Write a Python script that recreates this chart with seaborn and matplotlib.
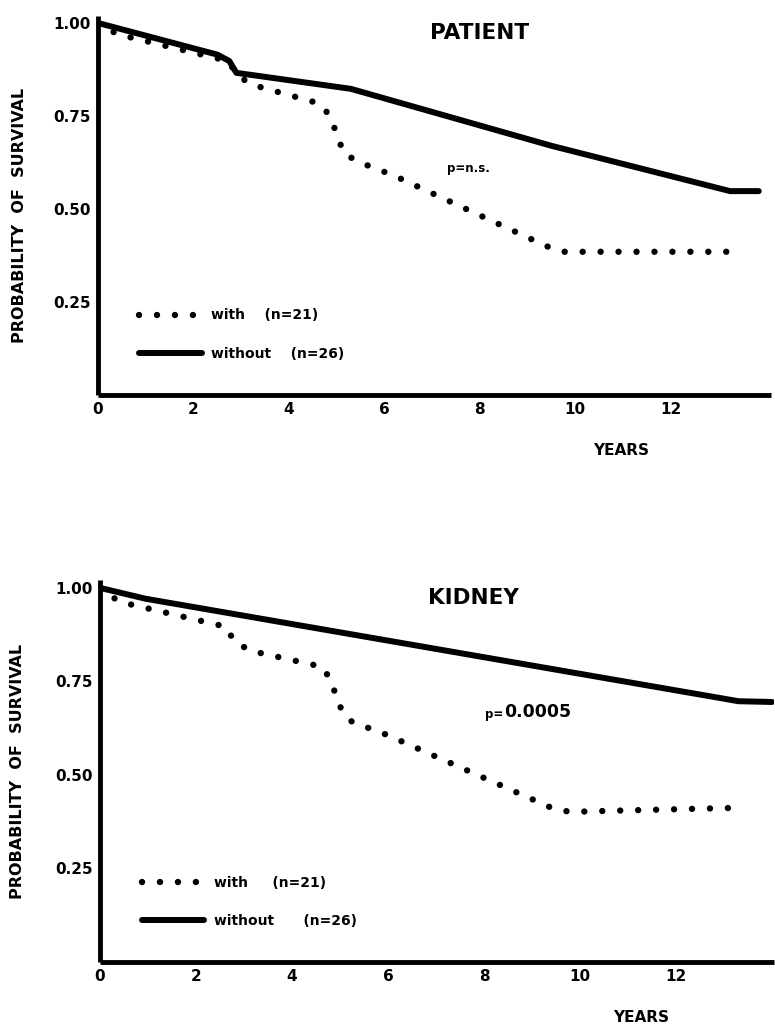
import matplotlib
matplotlib.use("Agg")
import matplotlib.pyplot as plt
import numpy as np
import pandas as pd
import seaborn as sns

# ---- survival curves (years, probability of survival) ----
pat_with_years = [0, 0.4, 2.5, 2.75, 2.9, 3.2, 4.6, 4.8, 4.95, 5.15, 5.45, 6.2, 9.4, 9.75, 13.25]
pat_with_surv = [1.0, 0.97, 0.905, 0.895, 0.862, 0.835, 0.785, 0.76, 0.72, 0.65, 0.627, 0.59, 0.40, 0.385, 0.385]

pat_without_years = [0, 2.5, 2.75, 2.9, 5.3, 9.5, 13.25, 13.85]
pat_without_surv = [1.0, 0.915, 0.898, 0.866, 0.823, 0.67, 0.548, 0.548]

kid_with_years = [0, 0.4, 2.63, 2.79, 3.13, 4.63, 4.79, 5.04, 5.25, 5.98, 9.46, 9.81, 10.6, 13.27]
kid_with_surv = [1.0, 0.963, 0.896, 0.858, 0.832, 0.789, 0.757, 0.671, 0.642, 0.607, 0.409, 0.401, 0.404, 0.412]

kid_without_years = [0, 0.95, 12.9, 13.3, 14.0]
kid_without_surv = [1.0, 0.971, 0.706, 0.697, 0.695]

group_labels = ["with", "without"]
n_patients = [21, 26]
panel_titles = ["PATIENT", "KIDNEY"]
p_values = ["n.s.", "0.0005"]

x_ticks = [0, 2, 4, 6, 8, 10, 12]
y_ticks = [0.25, 0.50, 0.75, 1.00]
y_tick_labels = ["0.25", "0.50", "0.75", "1.00"]

sns.set_theme(style="white")
plt.rcParams["font.family"] = ["DejaVu Sans"]
plt.rcParams["font.weight"] = "bold"
plt.rcParams["text.color"] = "black"
plt.rcParams["axes.labelcolor"] = "black"
plt.rcParams["xtick.color"] = "black"
plt.rcParams["ytick.color"] = "black"

fig = plt.figure(figsize=(7.75, 10.24), dpi=100)
ax_top = fig.add_axes([0.1265, 0.6143, 0.8679, 0.3705])
ax_bot = fig.add_axes([0.1290, 0.0606, 0.8702, 0.3726])

dot_style = dict(color="black", lw=4.6, linestyle=(0, (0.01, 2.8)),
                 dash_capstyle="round", solid_capstyle="round")
solid_style = dict(color="black", lw=4.3, linestyle="-", solid_joinstyle="round")


def draw_panel(ax, yw, sw, yo, so, xmax, title, title_x, pval, pval_xy, big_p,
               ylab_x, ylab_y, xlab_x, leg_anchor, gaps):
    df_w = pd.DataFrame({"years": yw, "surv": sw})
    df_o = pd.DataFrame({"years": yo, "surv": so})
    sns.lineplot(data=df_w, x="years", y="surv", ax=ax, estimator=None, sort=False,
                 label=f"{group_labels[0]}{' ' * gaps[0]}(n={n_patients[0]})", **dot_style)
    sns.lineplot(data=df_o, x="years", y="surv", ax=ax, estimator=None, sort=False,
                 label=f"{group_labels[1]}{' ' * gaps[1]}(n={n_patients[1]})", **solid_style)

    ax.set_xlim(0, xmax)
    ax.set_ylim(0, 1.02)
    ax.set_xticks(x_ticks)
    ax.set_xticklabels([str(t) for t in x_ticks], fontsize=11, fontweight="bold")
    ax.set_yticks(y_ticks)
    ax.set_yticklabels(y_tick_labels, fontsize=11, fontweight="bold")
    ax.tick_params(direction="in", length=5, width=2.2, pad=5, colors="black")

    sns.despine(ax=ax)
    for side in ("left", "bottom"):
        ax.spines[side].set_linewidth(3.5)
        ax.spines[side].set_color("black")
        ax.spines[side].set_capstyle("butt")

    ax.set_ylabel("PROBABILITY  OF  SURVIVAL", fontsize=11.5, fontweight="bold")
    ax.yaxis.set_label_coords(ylab_x, ylab_y)
    ax.set_xlabel("YEARS", fontsize=11, fontweight="bold")
    ax.xaxis.set_label_coords(xlab_x, -0.127)

    ax.text(title_x, 0.973, title, fontsize=15.5, fontweight="bold",
            ha="center", va="center")

    if big_p:
        t1 = ax.text(pval_xy[0], pval_xy[1], "p=", fontsize=8.5, fontweight="bold",
                     ha="left", va="baseline")
        ax.annotate(pval, xy=(1, 0), xycoords=t1, xytext=(1, 0),
                    textcoords="offset points", fontsize=12.5, fontweight="bold",
                    ha="left", va="bottom")
    else:
        ax.text(pval_xy[0], pval_xy[1], f"p={pval}", fontsize=8.5, fontweight="bold",
                ha="left", va="baseline")

    ax.legend(loc="upper left", bbox_to_anchor=leg_anchor, frameon=False,
              handlelength=4.5, handletextpad=0.7, labelspacing=1.75,
              borderpad=0, borderaxespad=0,
              prop={"size": 10, "weight": "bold"})


draw_panel(ax_top, pat_with_years, pat_with_surv, pat_without_years, pat_without_surv,
           14.1, panel_titles[0], 8.0, p_values[0], (7.32, 0.60), False,
           -0.106, 0.474, 0.7776, (0.061, 0.228), (4, 4))
draw_panel(ax_bot, kid_with_years, kid_with_surv, kid_without_years, kid_without_surv,
           14.05, panel_titles[1], 7.79, p_values[1], (8.02, 0.652), True,
           -0.111, 0.498, 0.802, (0.062, 0.226), (5, 6))

fig.savefig("out.png", dpi=100, facecolor="white")
